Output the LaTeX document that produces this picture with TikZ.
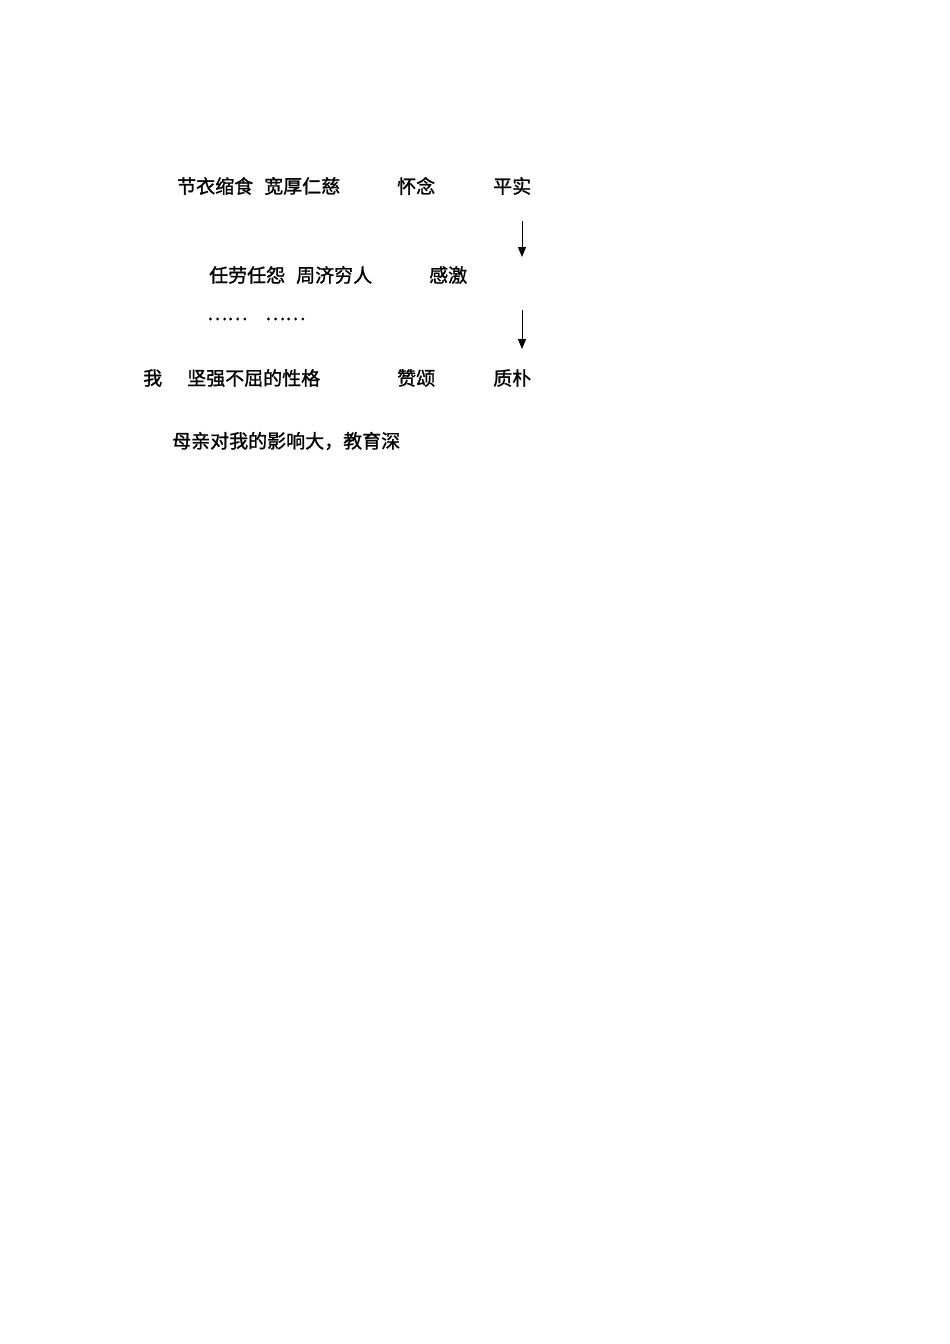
\documentclass[tikz,border=0pt]{standalone}
\usepackage{fontspec}
\newfontfamily\cjk{Noto Sans CJK SC}[FakeBold=1.2]
\usetikzlibrary{arrows.meta}
\begin{document}
\begin{tikzpicture}[x=1pt,y=1pt,
  lbl/.style={inner sep=0pt,anchor=west,font=\cjk\fontsize{19}{19}\selectfont},
  arr/.style={line width=1pt,-{Triangle[length=10pt,width=8pt]}}]
\useasboundingbox[fill=white] (0,0) rectangle (950,-1344);
% row 1
\node[lbl] (n1) at (177,-186) {节衣缩食};
\node[lbl] (n2) at (264,-186) {宽厚仁慈};
\node[lbl] (n3) at (397,-186) {怀念};
\node[lbl] (n4) at (493,-186) {平实};
% row 2
\node[lbl] (n5) at (209,-275) {任劳任怨};
\node[lbl] (n6) at (296,-275) {周济穷人};
\node[lbl] (n7) at (429,-275) {感激};
% dots
\node[lbl] (d1) at (207,-319) {……};
\node[lbl] (d2) at (265,-319) {……};
% row 3
\node[lbl] (n8) at (143,-378) {我};
\node[lbl] (n9) at (187,-378) {坚强不屈的性格};
\node[lbl] (n10) at (397,-378) {赞颂};
\node[lbl] (n11) at (493,-378) {质朴};
% row 4
\node[lbl] (n12) at (172,-441) {母亲对我的影响大，教育深};
% arrows
\coordinate (a1s) at (522,-221);
\coordinate (a1e) at (522,-257);
\coordinate (a2s) at (522,-310);
\coordinate (a2e) at (522,-349);
\draw[arr] (a1s) -- (a1e);
\draw[arr] (a2s) -- (a2e);
\end{tikzpicture}
\end{document}
